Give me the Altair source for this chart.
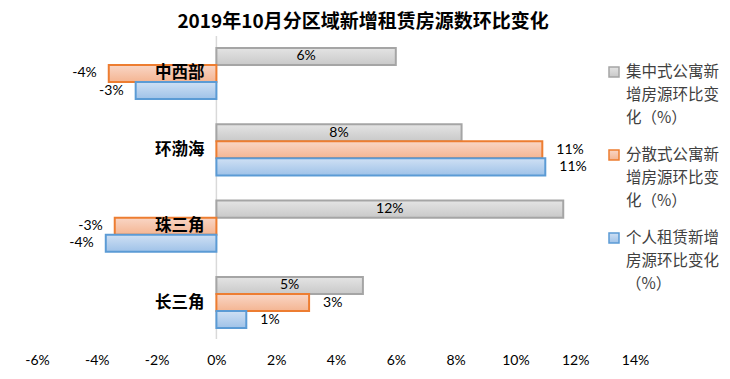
import altair as alt
import pandas as pd

regions = ["中西部", "环渤海", "珠三角", "长三角"]
series = ["集中式公寓新增房源环比变化（%）", "分散式公寓新增房源环比变化（%）", "个人租赁新增房源环比变化（%）"]
legend_lines = [["集中式公寓新", "增房源环比变", "化（%）"],
                ["分散式公寓新", "增房源环比变", "化（%）"],
                ["个人租赁新增", "房源环比变化", "（%）"]]
central = [6.0, 8.2, 11.6, 4.9]
scattered = [-3.6, 10.9, -3.4, 3.1]
personal = [-2.7, 11.0, -3.7, 1.0]
ticks = [-6, -4, -2, 0, 2, 4, 6, 8, 10, 12, 14]

rows = []
for i, r in enumerate(regions):
    for s, vals in zip(series, [central, scattered, personal]):
        rows.append({"region": r, "series": s, "value": vals[i],
                     "label": f"{round(vals[i]):d}%"})
df = pd.DataFrame(rows)

def grad(top, bottom):
    return alt.Gradient(gradient="linear", x1=0, x2=0, y1=0, y2=1,
                        stops=[alt.GradientStop(color=top, offset=0),
                               alt.GradientStop(color=bottom, offset=1)])

fills = [grad("#e4e4e4", "#c9c9c9"), grad("#f9d6c6", "#f4b592"), grad("#cfe0f4", "#9fc2e8")]
strokes = ["#a5a5a5", "#ed7d31", "#5b9bd5"]

W, H = 598, 300
FONT = "Noto Sans CJK SC"

yenc = alt.Y("region:N", sort=regions, axis=None,
             scale=alt.Scale(paddingInner=0.33, paddingOuter=0.13))
yoff = alt.YOffset("series:N", sort=series, scale=alt.Scale(domain=series))
xenc = alt.X("value:Q", title=None,
             scale=alt.Scale(domain=[-6, 14], nice=False, zero=False),
             axis=alt.Axis(values=ticks, labelExpr="datum.value + '%'", domain=False,
                           ticks=False, grid=False, labelPadding=15, labelFontSize=14,
                           labelFlush=False, labelOverlap=False,
                           labelFont="Lato", labelColor="#000000"))

base = alt.Chart(df)
layers = []
for s, f, st in zip(series, fills, strokes):
    layers.append(base.transform_filter(alt.datum.series == s)
                  .mark_bar(fill=f, stroke=st, strokeWidth=2, cornerRadius=0)
                  .encode(x=xenc, x2=alt.datum(0), y=yenc, yOffset=yoff))

zero_rule = alt.Chart(pd.DataFrame({"z": [0]})).mark_rule(color="#d9d9d9", strokeWidth=1.5).encode(
    x=alt.X("z:Q"), y=alt.value(-2), y2=alt.value(H + 1))

central_lbl = base.transform_filter(alt.datum.series == series[0]).transform_calculate(
    mid="datum.value / 2").mark_text(font="Lato", fontSize=14, color="#000000").encode(
    x="mid:Q", y=yenc, yOffset=yoff, text="label:N")

pos_lbl = base.transform_filter((alt.datum.series != series[0]) & (alt.datum.value >= 0)).mark_text(
    font="Lato", fontSize=14, color="#000000", align="left", dx=14).encode(
    x="value:Q", y=yenc, yOffset=yoff, text="label:N")

neg_lbl = base.transform_filter((alt.datum.series != series[0]) & (alt.datum.value < 0)).mark_text(
    font="Lato", fontSize=14, color="#000000", align="right", dx=-12).encode(
    x="value:Q", y=yenc, yOffset=yoff, text="label:N")

reg_df = pd.DataFrame({"region": regions, "z": [0] * len(regions)})
reg_lbl = alt.Chart(reg_df).mark_text(font=FONT, fontSize=16.5, fontWeight="bold", color="#000000",
                                      align="right", dx=-12).encode(
    x="z:Q", y=alt.Y("region:N", sort=regions, axis=None), text="region:N")

# legend (drawn inside the plot area, top-right)
LX, LY0, LSTEP, LLINE = 577, 34, 83, 23
leg_layers = []
for k, lines in enumerate(legend_lines):
    y0 = LY0 + k * LSTEP
    leg_layers.append(alt.Chart(pd.DataFrame({"s": [series[k]]})).mark_square(
        size=100, fill=fills[k], stroke=strokes[k], strokeWidth=1.5, opacity=1).encode(
        x=alt.value(LX), y=alt.value(y0)))
    for j, t in enumerate(lines):
        leg_layers.append(alt.Chart(pd.DataFrame({"t": [t]})).mark_text(
            font=FONT, fontSize=15.5, color="#404040", align="left").encode(
            x=alt.value(LX + 12), y=alt.value(y0 + j * LLINE), text="t:N"))

chart = alt.layer(zero_rule, *layers, central_lbl, pos_lbl, neg_lbl, reg_lbl, *leg_layers).properties(
    width=W, height=H,
    title=alt.Title("2019年10月分区域新增租赁房源数环比变化", font=FONT, fontSize=19,
                    fontWeight="bold", color="#000000", anchor="middle", offset=3, dx=27),
    autosize=alt.AutoSizeParams(type="none"),
    padding={"left": 29, "top": 30, "right": 87, "bottom": 32}
).configure_view(stroke=None)

chart.save("out.html", embed_options={"renderer": "svg", "actions": False})
